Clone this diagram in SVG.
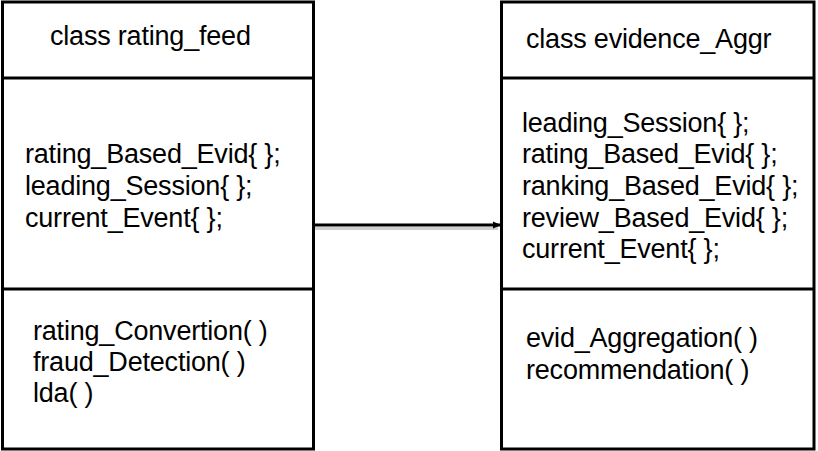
<svg xmlns="http://www.w3.org/2000/svg" width="818" height="451" viewBox="0 0 818 451">
<style>
.box{fill:#fff;stroke:#000;stroke-width:3}
.div{stroke:#000;stroke-width:3}
text{font-family:"Liberation Sans",Arial,sans-serif;font-size:27px;fill:#000;letter-spacing:-0.2px}
.conn{stroke:#000;stroke-width:3;fill:none}
.shadow{stroke:#bbb;stroke-width:3;fill:none;opacity:0.7}
</style>
<defs>
<marker id="arr" markerWidth="8" markerHeight="8" refX="7" refY="4" orient="auto" markerUnits="userSpaceOnUse">
<path d="M0,0.5 L8,4 L0,7.5 Z" fill="#000"/>
</marker>
</defs>
<rect width="818" height="451" fill="#fff"/>
<g id="connectors">
<line class="shadow" x1="315" y1="228.5" x2="498" y2="228.5"/>
<line class="conn" x1="314" y1="225" x2="500" y2="225" marker-end="url(#arr)"/>
</g>
<g id="rating_feed">
<rect class="box" x="2.5" y="2" width="311" height="447"/>
<line class="div" x1="2.5" y1="78" x2="313.5" y2="78"/>
<line class="div" x1="2.5" y1="289" x2="313.5" y2="289"/>
<text x="50" y="45">class rating_feed</text>
<text x="25" y="163">rating_Based_Evid{ };</text>
<text x="25" y="195">leading_Session{ };</text>
<text x="25" y="227">current_Event{ };</text>
<text x="33" y="340">rating_Convertion( )</text>
<text x="33" y="371">fraud_Detection( )</text>
<text x="33" y="402">lda( )</text>
</g>
<g id="evidence_Aggr">
<rect class="box" x="501.5" y="2" width="312.5" height="447"/>
<line class="div" x1="501.5" y1="78" x2="814" y2="78"/>
<line class="div" x1="501.5" y1="289" x2="814" y2="289"/>
<text x="526" y="48">class evidence_Aggr</text>
<text x="522" y="132">leading_Session{ };</text>
<text x="522" y="163">rating_Based_Evid{ };</text>
<text x="522" y="195">ranking_Based_Evid{ };</text>
<text x="522" y="227">review_Based_Evid{ };</text>
<text x="522" y="258">current_Event{ };</text>
<text x="526" y="347">evid_Aggregation( )</text>
<text x="526" y="379">recommendation( )</text>
</g>
</svg>
